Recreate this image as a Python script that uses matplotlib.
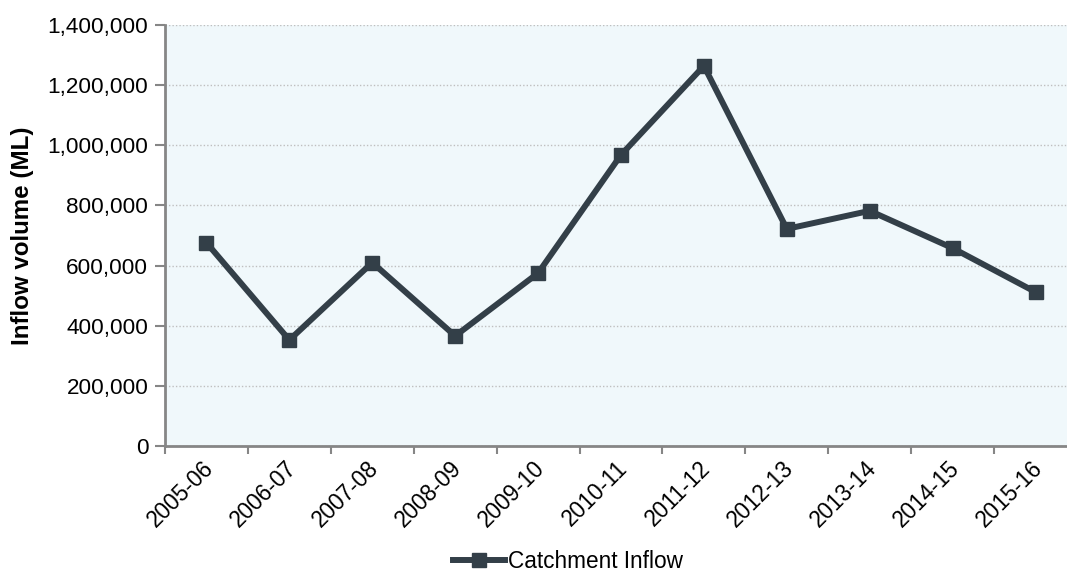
import matplotlib
matplotlib.use("Agg")
import matplotlib.pyplot as plt
import matplotlib.transforms as mtransforms
from matplotlib.ticker import FuncFormatter, MultipleLocator, FixedLocator
import numpy as np

plt.rcParams['font.family'] = ['Liberation Sans', 'DejaVu Sans']

years = ["2005-06", "2006-07", "2007-08", "2008-09", "2009-10", "2010-11",
         "2011-12", "2012-13", "2013-14", "2014-15", "2015-16"]
inflow = [676000, 352500, 610000, 366000, 575000, 968000,
          1264000, 722000, 782000, 658000, 512000]

W, H = 1067, 572
fig = plt.figure(figsize=(W / 100, H / 100), dpi=100)
left, right, top, bottom = 165, 1077, 25, 446
ax = fig.add_axes([left / W, 1 - bottom / H, (right - left) / W, (bottom - top) / H])
ax.set_facecolor("#F0F8FB")

x = np.arange(len(years))
line, = ax.plot(x, inflow, color="#333F48", lw=4.3, marker="s", ms=10,
                label="Catchment Inflow", zorder=3, clip_on=False)

ax.set_xlim(-0.5, len(years) - 0.5)
ax.set_ylim(0, 1400000)
ax.yaxis.set_major_locator(MultipleLocator(200000))
ax.yaxis.set_major_formatter(FuncFormatter(lambda v, p: f"{int(v):,}"))
ax.grid(axis="y", color="#BFBFBF", ls=(0, (1, 1.5)), lw=1)
ax.set_axisbelow(True)

ax.set_xticks(x)
ax.set_xticklabels(years, rotation=45, ha="right", rotation_mode="anchor")
ax.xaxis.set_minor_locator(FixedLocator(np.arange(-0.5, len(years), 1)))
ax.tick_params(axis="x", which="major", length=0, pad=9, labelsize=16.3)
ax.tick_params(axis="x", which="minor", length=6, width=1.5, color="#868686")
ax.tick_params(axis="y", length=7, width=1.5, color="#868686", labelsize=16.2, pad=5)
offset = mtransforms.ScaledTranslation(-5 / 100, 2 / 100, fig.dpi_scale_trans)
for lbl in ax.get_xticklabels():
    lbl.set_transform(lbl.get_transform() + offset)

for s in ["top", "right"]:
    ax.spines[s].set_visible(False)
for s in ["left", "bottom"]:
    ax.spines[s].set_color("#868686")
    ax.spines[s].set_linewidth(2)

ax.set_ylabel("Inflow volume (ML)", fontsize=17.4, fontweight="bold", labelpad=10)

fig.legend(handles=[line], loc="center", bbox_to_anchor=(568 / W, 1 - 561 / H),
           frameon=False, fontsize=16.3, handlelength=2.3, handletextpad=0.15,
           borderpad=0)

fig.savefig("out.png", dpi=100)
